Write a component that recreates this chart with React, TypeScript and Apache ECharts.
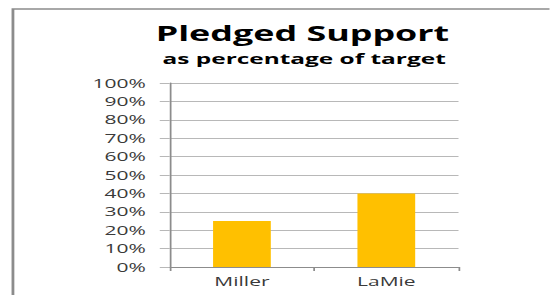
import React, { useEffect, useRef } from "react";
import * as echarts from "echarts";

const categories = ["Miller", "LaMie"];
const pledgedValues = [25, 40];
const yTicks = [0, 10, 20, 30, 40, 50, 60, 70, 80, 90, 100];

const STRETCH = 1.75;
const INNER_W = 314;

export default function App() {
  const ref = useRef<HTMLDivElement>(null);
  useEffect(() => {
    if (!ref.current) return;
    const chart = echarts.init(ref.current, null, { renderer: "svg" });
    const font = "'Open Sans', 'DejaVu Sans', sans-serif";
    chart.setOption({
      animation: false,
      backgroundColor: "#ffffff",
      title: [
        {
          text: "Pledged Support",
          left: 167.8,
          top: 18,
          textAlign: "center",
          textStyle: { fontFamily: font, fontWeight: "bold", fontSize: 20.5, color: "#000" },
        },
        {
          text: "as percentage of target",
          left: 168.8,
          top: 47,
          textAlign: "center",
          textStyle: { fontFamily: font, fontWeight: "bold", fontSize: 13.95, color: "#000" },
        },
      ],
      graphic: [
        {
          type: "rect",
          shape: { x: 7.4, y: 9, width: 400, height: 320 },
          style: { fill: "none", stroke: "#8c8c8c", lineWidth: 1.6 },
          silent: true,
        },
      ],
      grid: { left: 97, right: 52, top: 83, bottom: 28 },
      xAxis: {
        type: "category",
        data: categories,
        boundaryGap: true,
        axisLine: { lineStyle: { color: "#8c8c8c", width: 1 } },
        axisTick: { show: true, length: 4, interval: 0, lineStyle: { color: "#8c8c8c" } },
        axisLabel: { fontFamily: font, fontSize: 12, color: "#3a3a3a", margin: 8, interval: 0 },
      },
      yAxis: {
        type: "value",
        min: 0,
        max: 100,
        interval: 10,
        axisLine: { show: true, lineStyle: { color: "#8c8c8c", width: 1 } },
        axisTick: { show: true, length: 5.7, lineStyle: { color: "#b8b8b8" } },
        splitLine: { lineStyle: { color: "#b8b8b8", width: 1 } },
        axisLabel: {
          fontFamily: font,
          fontSize: 12,
          color: "#3a3a3a",
          margin: 13.7,
          formatter: (v: number) => (yTicks.includes(v) ? v + "%" : ""),
        },
      },
      series: [
        {
          type: "bar",
          data: pledgedValues,
          barWidth: "40%",
          itemStyle: { color: "#FFC000" },
        },
      ],
    });
    return () => chart.dispose();
  }, []);
  return (
    <div
      style={{
        position: "fixed",
        left: 0,
        top: 0,
        width: 550,
        height: 295,
        overflow: "hidden",
        background: "#fff",
      }}
    >
      <div
        ref={ref}
        style={{
          width: INNER_W,
          height: 295,
          transform: `scaleX(${STRETCH})`,
          transformOrigin: "0 0",
        }}
      />
    </div>
  );
}
